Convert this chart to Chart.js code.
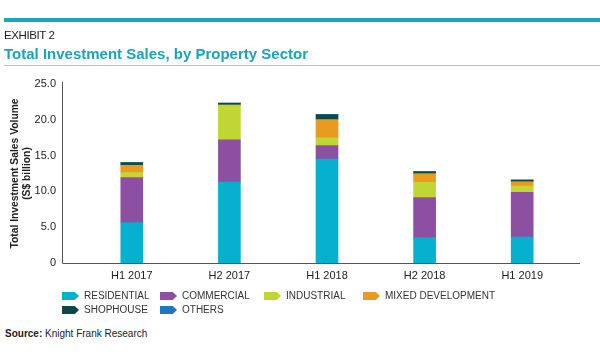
<!DOCTYPE html>
<html>
<head>
<meta charset="utf-8">
<script src="https://cdn.jsdelivr.net/npm/chart.js@4"></script>
<style>
  body { margin: 0; background: #fff; font-family: "Liberation Sans", Arial, sans-serif; }
  #wrap { position: relative; width: 600px; height: 360px; overflow: hidden; }
  #chart { position: absolute; left: 0; top: 0; }
  .topbar { position: absolute; left: 4px; top: 18px; width: 596px; height: 4px; background: #1aa6bd; }
  .exhibit { position: absolute; left: 4px; top: 29px; font-size: 11.5px; color: #222; letter-spacing: -0.4px; }
  .title { position: absolute; left: 4px; top: 45px; font-size: 15px; font-weight: bold; color: #1aa3ba; }
  .rule { position: absolute; left: 4px; top: 65px; width: 596px; height: 1px; background: #bdbdbd; }
  .legend { position: absolute; left: 62px; top: 290px; font-size: 10px; color: #333; }
  .item { position: absolute; white-space: nowrap; height: 12px; line-height: 12px; }
  .mark { position: absolute; left: 0; top: 2px; width: 17px; height: 8px;
          clip-path: polygon(0 0, 75% 0, 100% 50%, 75% 100%, 0 100%); }
  .item span { position: absolute; left: 22px; top: 0; }
  .source { position: absolute; left: 5px; top: 328px; font-size: 10px; color: #222; }
</style>
</head>
<body>
<div id="wrap">
  <canvas id="chart" width="600" height="300"></canvas>
  <div class="topbar"></div>
  <div class="exhibit">EXHIBIT 2</div>
  <div class="title">Total Investment Sales, by Property Sector</div>
  <div class="rule"></div>
  <div class="legend" id="legend"></div>
  <div class="source"><b>Source:</b> Knight Frank Research</div>
</div>
<script>
const periods = ["H1 2017", "H2 2017", "H1 2018", "H2 2018", "H1 2019"];

const residential = [5.63, 11.3, 14.5, 3.53, 3.63];
const commercial  = [6.3, 5.9, 1.9, 5.6, 6.24];
const industrial  = [0.7, 4.85, 1.08, 2.15, 0.88];
const mixedDev    = [1.02, 0, 2.55, 1.2, 0.6];
const shophouse   = [0.37, 0.28, 0.7, 0.28, 0.24];
const others      = [0, 0, 0, 0, 0];

const sectors = ["RESIDENTIAL", "COMMERCIAL", "INDUSTRIAL", "MIXED DEVELOPMENT", "SHOPHOUSE", "OTHERS"];
const colors = ["#08b0cf", "#8d4fa2", "#c0d634", "#e89c1f", "#0b4a46", "#1e76c0"];
const series = [residential, commercial, industrial, mixedDev, shophouse, others];

const yTicks = [0, 5, 10, 15, 20, 25];

// axis lines sit a bit left of the first category, like the original
const axisLines = {
    id: "axisLines",
    afterDraw(chart) {
        const {ctx, chartArea} = chart;
        ctx.save();
        ctx.strokeStyle = "#555";
        ctx.lineWidth = 1;
        ctx.beginPath();
        ctx.moveTo(62.5, chartArea.top - 2);
        ctx.lineTo(62.5, chartArea.bottom + 0.5);
        ctx.lineTo(580, chartArea.bottom + 0.5);
        ctx.stroke();
        ctx.restore();
    }
};

new Chart(document.getElementById("chart"), {
    type: "bar",
    data: {
        labels: periods,
        datasets: series.map((d, i) => ({
            label: sectors[i],
            data: d,
            backgroundColor: colors[i],
            borderWidth: 0,
            barThickness: 22
        }))
    },
    options: {
        responsive: false,
        animation: false,
        layout: { padding: { left: 0, right: 29, top: 84, bottom: 0 } },
        plugins: { legend: { display: false }, tooltip: { enabled: false } },
        scales: {
            x: {
                stacked: true,
                grid: { display: false, drawTicks: false },
                border: { display: false },
                ticks: { padding: 6, color: "#222", font: { family: "Liberation Sans", size: 11 } },
                afterFit(scale) { scale.height = 37; }
            },
            y: {
                stacked: true,
                min: 0,
                max: 25,
                afterBuildTicks(scale) { scale.ticks = yTicks.map(v => ({ value: v })); },
                grid: { display: false, drawTicks: false },
                border: { display: false },
                ticks: {
                    padding: 27,
                    color: "#222",
                    font: { family: "Liberation Sans", size: 11 },
                    callback: v => v === 0 ? "0" : v.toFixed(1)
                },
                title: {
                    display: true,
                    text: ["Total Investment Sales Volume", "(S$ billion)"],
                    color: "#222",
                    font: { family: "Liberation Sans", size: 10.3, weight: "bold", lineHeight: 1.15 },
                    padding: { top: 9, bottom: 0 }
                },
                afterFit(scale) { scale.width = 83; }
            }
        }
    },
    plugins: [axisLines]
});

// legend laid out in two rows like the original
const legendPos = [[0, 0], [98, 0], [202, 0], [301, 0], [0, 14], [98, 14]];
const legend = document.getElementById("legend");
sectors.forEach((name, i) => {
    const div = document.createElement("div");
    div.className = "item";
    div.style.left = legendPos[i][0] + "px";
    div.style.top = legendPos[i][1] + "px";
    div.innerHTML = `<div class="mark" style="background:${colors[i]}"></div><span>${name}</span>`;
    legend.appendChild(div);
});
</script>
</body>
</html>
